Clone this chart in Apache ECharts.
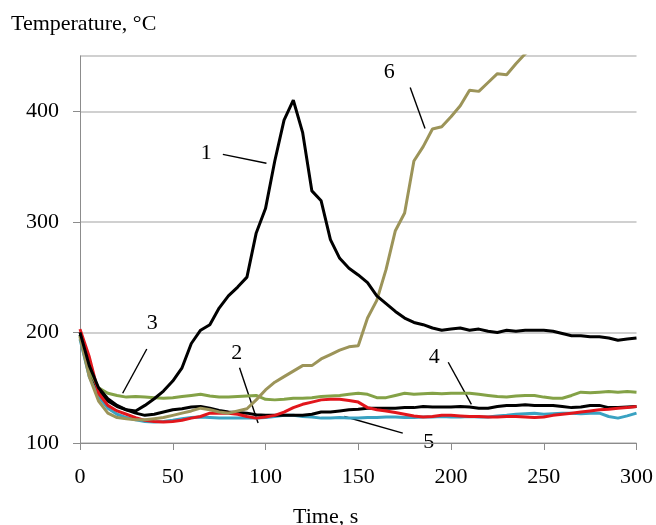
<!DOCTYPE html>
<html>
<head>
<meta charset="utf-8">
<script src="https://cdn.jsdelivr.net/npm/echarts@6/dist/echarts.min.js"></script>
<style>
html,body{margin:0;padding:0;background:#fff;}
#chart{width:656px;height:525px;}
</style>
</head>
<body>
<div id="chart"></div>
<script>
// Time axis (s), 5-second steps
const times = [];
for (let t = 0; t <= 300; t += 5) times.push(t);

const xTicks = [0, 50, 100, 150, 200, 250, 300];
const yTicks = [100, 200, 300, 400];

// Series values (°C), one per time step
const curve1 = [200,170,150,140,134,130,129,134,140,147,156,168,190,202,207,222,233,241,250,290,312,355,392,410,381,328,319,284,267,258,252,245,233,226,219,213,209,207,204,202,203,204,202,203,201,200,202,201,202,202,202,201,199,197,197,196,196,195,193,194,195];
const curve2 = [203,178,145,134,129,126,123,120.5,119.5,119,119.5,120.5,122.5,124,127,127,127,126,124,122.5,123.5,125,128,132,135,137,139,139.5,139.5,138.5,137,132,130,129,127.5,126,124.5,123.5,124,125,125,124.5,124,124,123.5,123.5,124,124,123.5,123,123.5,125,126,127,128,129,130,130.5,131.5,132,133];
const curve3 = [197,165,150,145,143,141.5,142,141.5,141,140.5,141,142,143,144,142.5,141.5,141.5,142,142.5,143,139.5,139,139.5,140.5,140.5,141,142,142.5,143,144,145,144,141,141,143,145,144,144.5,145,144.5,145,145,145,144,143,142,141.5,142.5,143,143,141.5,140.5,140.5,143,146,145.5,146,146.5,146,146.5,146];
const curve4 = [198,165,148,138,133,130,127,125,126,128,130,131,132.5,133,131.5,129.5,128,127.5,127,125.5,125,125,125,125,125,126,128,128,129,130,130.5,131.5,131.5,131.5,131.5,132,132,133,132.5,132.5,132.5,133,132.5,131.5,131.5,133,134,134,134.5,134,134,134,133,132,132.5,134,134,132,132,132.5,133];
const curve5 = [194,160,142,131.5,126,123,121,119.5,119,119.5,120.5,122,123,123.5,123,122.5,122.5,122.5,122.5,122.5,123,124,125,125,124,123.5,122.5,122.5,123,122.5,122.5,123,123,123.5,123.5,123,123,123.5,123.5,124,123.5,123.5,124,123.5,123.5,124.5,125,126,126.5,127,126,126.5,127,127,126.5,127,127,124,122.5,124.5,127];
const curve6 = [196,160,138,127,123,122,121,121,122,123,125,127,129,131.5,130,128,127,129,131,139,148,155,160,165,170,170,176,180,184,187,188,213,229,257,292,308,355,368,384,386,395,405,419,418,426,434,433,443,452,458,null,null,null,null,null,null,null,null,null,null,null];

// Annotation labels: number, text anchor [t, °C], leader line endpoints
const annotations = [
  {label: '1', text: [68, 362], from: [77, 361], to: [100.5, 353]},
  {label: '2', text: [84.5, 181], from: [86, 168], to: [96, 118]},
  {label: '3', text: [39, 208], from: [36, 185], to: [23, 145]},
  {label: '4', text: [191, 178], from: [198.5, 173], to: [211, 135]},
  {label: '5', text: [188, 101], from: [142.5, 124], to: [174, 109]},
  {label: '6', text: [166.7, 435], from: [178, 421.6], to: [186, 384.5]}
];

const seriesDefs = [
  {name: '5', data: curve5, color: '#3aa2c2'},
  {name: '4', data: curve4, color: '#000000'},
  {name: '3', data: curve3, color: '#84a247'},
  {name: '2', data: curve2, color: '#e2161c'},
  {name: '6', data: curve6, color: '#9c9459'},
  {name: '1', data: curve1, color: '#000000'}
];

const FONT = '"Liberation Serif", "Times New Roman", serif';
const FS = 22;
const chart = echarts.init(document.getElementById('chart'), null, {renderer: 'canvas'});

const option = {
  animation: false,
  backgroundColor: '#ffffff',
  grid: {left: 80, right: 18, top: 56, bottom: 82, containLabel: false},
  xAxis: {
    type: 'value', min: 0, max: 300, interval: 50,
    axisLine: {show: true, onZero: false, lineStyle: {color: '#8c8c8c', width: 1}},
    axisTick: {show: true, length: 7, lineStyle: {color: '#8c8c8c'}},
    axisLabel: {margin: 23, color: '#000', fontFamily: FONT, fontSize: FS,
      formatter: v => xTicks.includes(v) ? String(v) : ''},
    splitLine: {show: false}
  },
  yAxis: {
    type: 'value', min: 100, max: 450, interval: 100,
    axisLine: {show: true, lineStyle: {color: '#8c8c8c', width: 1}},
    axisTick: {show: true, length: 7, lineStyle: {color: '#8c8c8c'}},
    axisLabel: {margin: 21, color: '#000', fontFamily: FONT, fontSize: FS,
      showMaxLabel: false,
      formatter: v => yTicks.includes(v) ? String(v) : ''},
    splitLine: {show: true, lineStyle: {color: '#c0c0c0', width: 1.5}}
  },
  series: seriesDefs.map(s => ({
    type: 'line', name: s.name,
    data: times.map((t, i) => [t, s.data[i]]),
    showSymbol: false, symbol: 'none', smooth: false, clip: true,
    connectNulls: false,
    lineStyle: {color: s.color, width: 3},
    itemStyle: {color: s.color}
  }))
};
chart.setOption(option);

function drawAnnotations() {
  const elements = [];
  annotations.forEach(a => {
    const p = chart.convertToPixel({gridIndex: 0}, a.text);
    const f = chart.convertToPixel({gridIndex: 0}, a.from);
    const e = chart.convertToPixel({gridIndex: 0}, a.to);
    elements.push({
      type: 'text', x: p[0], y: p[1],
      style: {text: a.label, font: FS + 'px ' + FONT, fill: '#000', align: 'center', verticalAlign: 'middle'}
    });
    elements.push({
      type: 'line', shape: {x1: f[0], y1: f[1], x2: e[0], y2: e[1]},
      style: {stroke: '#000', lineWidth: 1.4}
    });
  });
  elements.push({
    type: 'text', left: 11, top: 13,
    style: {text: 'Temperature, °C', font: FS + 'px ' + FONT, fill: '#000'}
  });
  elements.push({
    type: 'text', left: 293, top: 506,
    style: {text: 'Time, s', font: FS + 'px ' + FONT, fill: '#000'}
  });
  chart.setOption({graphic: {elements: elements}});
}
drawAnnotations();
</script>
</body>
</html>
